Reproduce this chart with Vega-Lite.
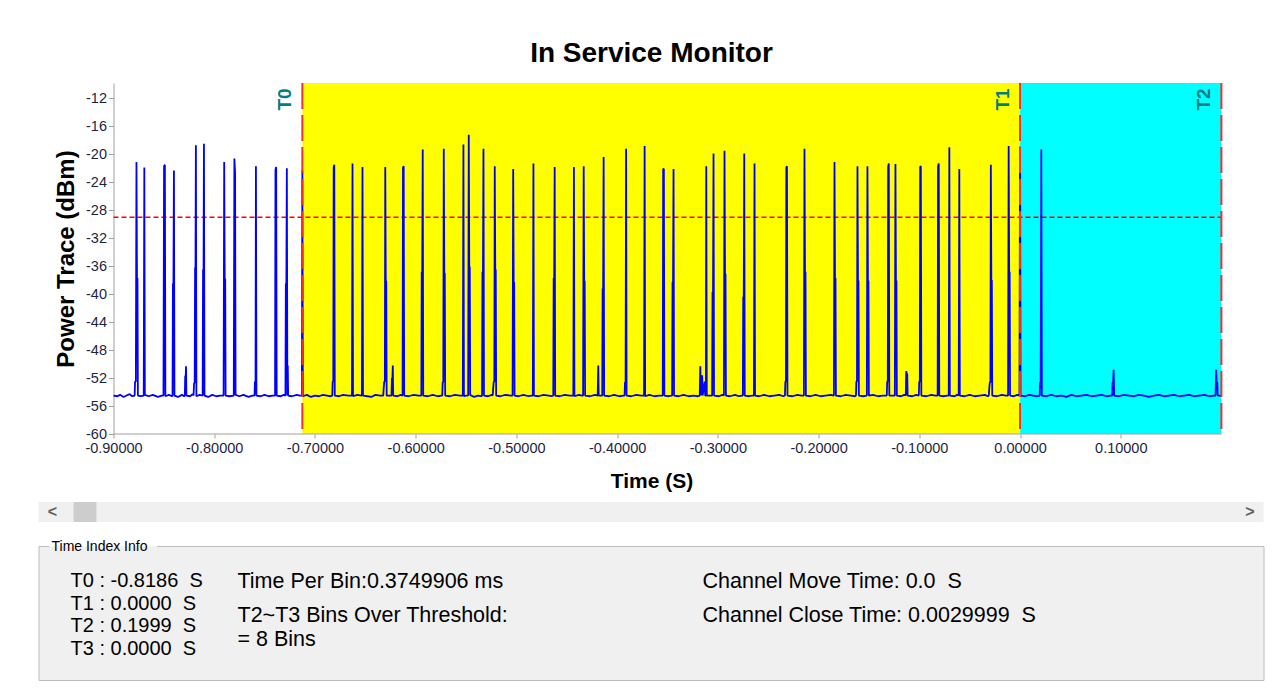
{
"$schema": "https://vega.github.io/schema/vega-lite/v6.json",
"background": "#ffffff",
"padding": {"left": 37.5, "top": 40, "right": 0, "bottom": 0},
"bounds": "flush",
"spacing": 24,
"config": {
  "font": "Liberation Sans",
  "view": {"stroke": null},
  "axis": {"grid": false, "labelOverlap": false, "domainColor": "#a0a0a0", "tickColor": "#a0a0a0", "labelColor": "#1f1f3f", "labelFontSize": 14.5, "titleColor": "#000000", "labelFont": "Liberation Sans", "titleFont": "Liberation Sans"},
  "title": {"font": "Liberation Sans", "color": "#000000"},
  "text": {"font": "Liberation Sans"}
},
"datasets": {
  "regions": [{"span": "T0-T1", "start": -0.7125, "end": 0}, {"span": "T1-T2", "start": 0, "end": 0.1999}],
  "markers": [{"name": "T0", "t": -0.7125}, {"name": "T1", "t": 0}, {"name": "T2", "t": 0.1999}],
  "threshold": [{"level": -29}],
  "info": [
    {"col": 1, "row": 1, "text": "T0 : -0.8186\u00a0 S"},
    {"col": 1, "row": 2, "text": "T1 : 0.0000\u00a0 S"},
    {"col": 1, "row": 3, "text": "T2 : 0.1999\u00a0 S"},
    {"col": 1, "row": 4, "text": "T3 : 0.0000\u00a0 S"},
    {"col": 2, "row": 1, "text": "Time Per Bin:0.3749906 ms"},
    {"col": 2, "row": 2, "text": "T2~T3 Bins Over Threshold:\n= 8 Bins"},
    {"col": 3, "row": 1, "text": "Channel Move Time: 0.0\u00a0 S"},
    {"col": 3, "row": 2, "text": "Channel Close Time: 0.0029999\u00a0 S"}
  ],
  "trace": [
{"t":-0.9,"v":-54.5},{"t":-0.896,"v":-54.6},{"t":-0.8935,"v":-54.4},{"t":-0.89,"v":-54.7},{"t":-0.887,"v":-54.5},{"t":-0.884,"v":-54.3},{"t":-0.8815,"v":-54.6},
{"t":-0.879,"v":-54.5},{"t":-0.8786,"v":-52.5},{"t":-0.8778,"v":-52.5},{"t":-0.8772,"v":-21.1},{"t":-0.8767,"v":-37.7},{"t":-0.8762,"v":-37.7},{"t":-0.8758,"v":-54.5},{"t":-0.873,"v":-54.6},
{"t":-0.87,"v":-54.5},{"t":-0.8694,"v":-21.9},{"t":-0.8689,"v":-54.4},{"t":-0.865,"v":-54.6},{"t":-0.861,"v":-54.4},{"t":-0.856,"v":-54.7},{"t":-0.852,"v":-54.5},
{"t":-0.8504,"v":-54.5},{"t":-0.8498,"v":-21.7},{"t":-0.849,"v":-21.5},{"t":-0.8485,"v":-54.6},{"t":-0.845,"v":-54.4},{"t":-0.842,"v":-54.6},
{"t":-0.8414,"v":-54.5},{"t":-0.841,"v":-38.5},{"t":-0.8405,"v":-38.5},{"t":-0.84,"v":-22.3},{"t":-0.8395,"v":-54.5},{"t":-0.836,"v":-54.7},{"t":-0.832,"v":-54.4},{"t":-0.83,"v":-54.6},
{"t":-0.8292,"v":-54.5},{"t":-0.8288,"v":-51.7},{"t":-0.8283,"v":-51.7},{"t":-0.828,"v":-50.3},{"t":-0.8276,"v":-54.5},{"t":-0.824,"v":-54.6},{"t":-0.8215,"v":-54.3},
{"t":-0.8205,"v":-54.5},{"t":-0.82,"v":-52.7},{"t":-0.8194,"v":-52.7},{"t":-0.819,"v":-36.2},{"t":-0.8186,"v":-36.2},{"t":-0.8182,"v":-18.7},{"t":-0.8177,"v":-54.6},{"t":-0.8145,"v":-54.4},
{"t":-0.8115,"v":-54.5},{"t":-0.8111,"v":-36.5},{"t":-0.8106,"v":-36.5},{"t":-0.8102,"v":-18.5},{"t":-0.8097,"v":-54.5},{"t":-0.806,"v":-54.7},{"t":-0.802,"v":-54.4},{"t":-0.798,"v":-54.6},{"t":-0.794,"v":-54.5},
{"t":-0.7907,"v":-54.5},{"t":-0.7901,"v":-21.1},{"t":-0.7896,"v":-37.8},{"t":-0.7891,"v":-37.8},{"t":-0.7887,"v":-54.5},{"t":-0.785,"v":-54.6},
{"t":-0.7806,"v":-54.5},{"t":-0.78,"v":-20.6},{"t":-0.7793,"v":-22.6},{"t":-0.7788,"v":-54.4},{"t":-0.775,"v":-54.6},{"t":-0.771,"v":-54.4},{"t":-0.766,"v":-54.7},{"t":-0.762,"v":-54.5},
{"t":-0.76,"v":-54.5},{"t":-0.7596,"v":-52.5},{"t":-0.759,"v":-52.5},{"t":-0.7586,"v":-21.7},{"t":-0.7581,"v":-54.5},{"t":-0.754,"v":-54.6},{"t":-0.75,"v":-54.4},{"t":-0.746,"v":-54.6},{"t":-0.742,"v":-54.5},
{"t":-0.7396,"v":-54.5},{"t":-0.7392,"v":-22.2},{"t":-0.7385,"v":-21.8},{"t":-0.738,"v":-54.5},{"t":-0.734,"v":-54.6},{"t":-0.731,"v":-54.4},
{"t":-0.7293,"v":-54.5},{"t":-0.7289,"v":-38.5},{"t":-0.7284,"v":-38.5},{"t":-0.7279,"v":-22.0},{"t":-0.7274,"v":-54.5},{"t":-0.727,"v":-50.2},{"t":-0.7266,"v":-54.5},{"t":-0.723,"v":-54.6},{"t":-0.718,"v":-54.4},{"t":-0.715,"v":-54.5},
{"t":-0.713,"v":-54.5},{"t":-0.7125,"v":-22.3},{"t":-0.712,"v":-54.6},{"t":-0.708,"v":-54.4},{"t":-0.704,"v":-54.7},{"t":-0.7,"v":-54.5},{"t":-0.696,"v":-54.6},{"t":-0.692,"v":-54.4},{"t":-0.688,"v":-54.5},{"t":-0.6845,"v":-54.6},
{"t":-0.6828,"v":-54.5},{"t":-0.6824,"v":-52.5},{"t":-0.6818,"v":-52.5},{"t":-0.6814,"v":-21.8},{"t":-0.6808,"v":-21.5},{"t":-0.6803,"v":-54.5},{"t":-0.676,"v":-54.6},{"t":-0.672,"v":-54.4},{"t":-0.667,"v":-54.5},
{"t":-0.6633,"v":-54.5},{"t":-0.6627,"v":-21.3},{"t":-0.6622,"v":-54.6},{"t":-0.658,"v":-54.4},
{"t":-0.6534,"v":-54.5},{"t":-0.6528,"v":-21.8},{"t":-0.6523,"v":-54.5},{"t":-0.648,"v":-54.6},{"t":-0.644,"v":-54.7},{"t":-0.64,"v":-54.4},{"t":-0.635,"v":-54.5},
{"t":-0.6322,"v":-54.5},{"t":-0.6318,"v":-53.5},{"t":-0.6312,"v":-52.5},{"t":-0.6306,"v":-52.5},{"t":-0.6302,"v":-21.8},{"t":-0.6297,"v":-38.1},{"t":-0.6292,"v":-38.1},{"t":-0.6288,"v":-54.5},
{"t":-0.624,"v":-54.5},{"t":-0.6236,"v":-52.0},{"t":-0.6231,"v":-52.0},{"t":-0.6227,"v":-50.2},{"t":-0.6223,"v":-54.5},{"t":-0.618,"v":-54.6},{"t":-0.615,"v":-54.4},
{"t":-0.613,"v":-54.5},{"t":-0.6126,"v":-21.9},{"t":-0.6119,"v":-21.7},{"t":-0.6114,"v":-54.5},{"t":-0.607,"v":-54.6},{"t":-0.602,"v":-54.4},{"t":-0.597,"v":-54.5},
{"t":-0.5944,"v":-54.5},{"t":-0.594,"v":-36.8},{"t":-0.5935,"v":-36.8},{"t":-0.593,"v":-19.3},{"t":-0.5925,"v":-54.5},{"t":-0.588,"v":-54.6},{"t":-0.583,"v":-54.4},{"t":-0.578,"v":-54.6},{"t":-0.5745,"v":-54.5},
{"t":-0.5736,"v":-54.5},{"t":-0.5732,"v":-52.6},{"t":-0.5726,"v":-52.6},{"t":-0.5721,"v":-19.2},{"t":-0.5716,"v":-37.0},{"t":-0.5711,"v":-37.0},{"t":-0.5707,"v":-54.5},{"t":-0.566,"v":-54.6},{"t":-0.561,"v":-54.4},{"t":-0.556,"v":-54.5},
{"t":-0.5532,"v":-54.5},{"t":-0.5526,"v":-18.6},{"t":-0.5521,"v":-54.6},{"t":-0.55,"v":-54.5},
{"t":-0.5479,"v":-54.5},{"t":-0.5473,"v":-17.2},{"t":-0.5468,"v":-36.1},{"t":-0.5463,"v":-36.1},{"t":-0.5459,"v":-54.4},{"t":-0.542,"v":-54.7},{"t":-0.538,"v":-54.5},{"t":-0.535,"v":-54.6},
{"t":-0.5341,"v":-54.5},{"t":-0.5337,"v":-36.8},{"t":-0.5332,"v":-36.8},{"t":-0.5327,"v":-19.2},{"t":-0.5322,"v":-54.5},{"t":-0.528,"v":-54.6},{"t":-0.5245,"v":-54.4},
{"t":-0.5235,"v":-54.5},{"t":-0.5231,"v":-53.5},{"t":-0.5225,"v":-52.5},{"t":-0.5219,"v":-52.5},{"t":-0.5215,"v":-21.7},{"t":-0.521,"v":-36.5},{"t":-0.5205,"v":-36.5},{"t":-0.5201,"v":-54.5},{"t":-0.516,"v":-54.6},{"t":-0.511,"v":-54.4},{"t":-0.506,"v":-54.5},
{"t":-0.5038,"v":-54.5},{"t":-0.5032,"v":-22.1},{"t":-0.5027,"v":-38.3},{"t":-0.5022,"v":-38.3},{"t":-0.5018,"v":-54.5},{"t":-0.498,"v":-54.6},{"t":-0.493,"v":-54.4},{"t":-0.488,"v":-54.6},{"t":-0.485,"v":-54.5},
{"t":-0.4837,"v":-54.5},{"t":-0.4831,"v":-21.3},{"t":-0.4826,"v":-54.5},{"t":-0.478,"v":-54.6},{"t":-0.473,"v":-54.4},{"t":-0.468,"v":-54.5},{"t":-0.465,"v":-54.6},
{"t":-0.4634,"v":-54.5},{"t":-0.463,"v":-37.7},{"t":-0.4625,"v":-37.7},{"t":-0.462,"v":-21.8},{"t":-0.4615,"v":-54.5},{"t":-0.457,"v":-54.6},{"t":-0.452,"v":-54.4},{"t":-0.447,"v":-54.5},
{"t":-0.4435,"v":-54.5},{"t":-0.4429,"v":-21.8},{"t":-0.4424,"v":-54.6},{"t":-0.438,"v":-54.4},{"t":-0.435,"v":-54.5},
{"t":-0.4338,"v":-54.5},{"t":-0.4332,"v":-21.7},{"t":-0.4327,"v":-38.1},{"t":-0.4322,"v":-38.1},{"t":-0.4318,"v":-54.5},{"t":-0.427,"v":-54.6},{"t":-0.422,"v":-54.4},
{"t":-0.4193,"v":-54.5},{"t":-0.4187,"v":-50.2},{"t":-0.4183,"v":-54.5},
{"t":-0.4148,"v":-54.5},{"t":-0.4144,"v":-39.2},{"t":-0.4139,"v":-39.2},{"t":-0.4134,"v":-20.4},{"t":-0.4129,"v":-54.5},{"t":-0.408,"v":-54.6},{"t":-0.403,"v":-54.4},{"t":-0.398,"v":-54.6},{"t":-0.3935,"v":-54.5},
{"t":-0.3926,"v":-54.5},{"t":-0.3922,"v":-52.6},{"t":-0.3916,"v":-52.6},{"t":-0.3911,"v":-19.2},{"t":-0.3906,"v":-54.5},{"t":-0.386,"v":-54.6},{"t":-0.381,"v":-54.4},{"t":-0.376,"v":-54.5},
{"t":-0.3733,"v":-54.5},{"t":-0.3727,"v":-18.8},{"t":-0.3722,"v":-54.6},{"t":-0.368,"v":-54.4},{"t":-0.363,"v":-54.6},{"t":-0.358,"v":-54.5},
{"t":-0.3547,"v":-54.5},{"t":-0.3543,"v":-22.1},{"t":-0.3536,"v":-22.1},{"t":-0.3531,"v":-54.5},{"t":-0.349,"v":-54.6},{"t":-0.346,"v":-54.5},
{"t":-0.3454,"v":-54.5},{"t":-0.345,"v":-38.3},{"t":-0.3445,"v":-38.3},{"t":-0.344,"v":-22.1},{"t":-0.3435,"v":-54.5},{"t":-0.339,"v":-54.6},{"t":-0.334,"v":-54.4},{"t":-0.329,"v":-54.6},{"t":-0.324,"v":-54.5},{"t":-0.32,"v":-54.6},
{"t":-0.318,"v":-54.5},{"t":-0.3174,"v":-50.3},{"t":-0.3169,"v":-54.5},{"t":-0.3156,"v":-51.6},{"t":-0.3151,"v":-54.5},{"t":-0.3131,"v":-52.5},{"t":-0.3126,"v":-54.5},
{"t":-0.3119,"v":-54.5},{"t":-0.3115,"v":-21.7},{"t":-0.311,"v":-54.5},
{"t":-0.3057,"v":-54.5},{"t":-0.3053,"v":-39.7},{"t":-0.3048,"v":-39.7},{"t":-0.3043,"v":-19.9},{"t":-0.3038,"v":-54.5},{"t":-0.299,"v":-54.6},{"t":-0.2955,"v":-54.4},
{"t":-0.294,"v":-54.5},{"t":-0.2934,"v":-19.5},{"t":-0.2929,"v":-37.1},{"t":-0.2924,"v":-37.1},{"t":-0.292,"v":-54.5},{"t":-0.288,"v":-54.6},{"t":-0.283,"v":-54.4},{"t":-0.279,"v":-54.6},{"t":-0.276,"v":-54.5},
{"t":-0.2752,"v":-54.5},{"t":-0.2748,"v":-40.4},{"t":-0.2743,"v":-40.4},{"t":-0.2738,"v":-19.9},{"t":-0.2733,"v":-54.5},{"t":-0.269,"v":-54.6},{"t":-0.266,"v":-54.5},
{"t":-0.2642,"v":-54.5},{"t":-0.2636,"v":-21.3},{"t":-0.2631,"v":-54.5},{"t":-0.259,"v":-54.6},{"t":-0.254,"v":-54.4},{"t":-0.249,"v":-54.6},{"t":-0.244,"v":-54.5},{"t":-0.239,"v":-54.4},{"t":-0.235,"v":-54.6},
{"t":-0.2334,"v":-54.5},{"t":-0.233,"v":-52.5},{"t":-0.2324,"v":-52.5},{"t":-0.232,"v":-21.9},{"t":-0.2314,"v":-21.7},{"t":-0.2309,"v":-54.5},{"t":-0.226,"v":-54.6},{"t":-0.221,"v":-54.4},{"t":-0.217,"v":-54.5},
{"t":-0.2146,"v":-54.5},{"t":-0.214,"v":-19.2},{"t":-0.2135,"v":-36.8},{"t":-0.213,"v":-36.8},{"t":-0.2126,"v":-54.5},{"t":-0.208,"v":-54.6},{"t":-0.203,"v":-54.4},{"t":-0.198,"v":-54.6},{"t":-0.193,"v":-54.5},{"t":-0.188,"v":-54.4},
{"t":-0.1848,"v":-54.5},{"t":-0.1842,"v":-21.1},{"t":-0.1837,"v":-37.7},{"t":-0.1832,"v":-37.7},{"t":-0.1828,"v":-54.5},{"t":-0.178,"v":-54.6},{"t":-0.173,"v":-54.4},{"t":-0.168,"v":-54.5},{"t":-0.164,"v":-54.6},
{"t":-0.1629,"v":-54.5},{"t":-0.1625,"v":-52.5},{"t":-0.1619,"v":-52.5},{"t":-0.1614,"v":-21.7},{"t":-0.1609,"v":-38.1},{"t":-0.1604,"v":-38.1},{"t":-0.16,"v":-54.5},{"t":-0.156,"v":-54.6},
{"t":-0.1521,"v":-54.5},{"t":-0.1515,"v":-21.7},{"t":-0.151,"v":-38.1},{"t":-0.1505,"v":-38.1},{"t":-0.1501,"v":-54.5},{"t":-0.146,"v":-54.4},{"t":-0.141,"v":-54.6},{"t":-0.136,"v":-54.5},
{"t":-0.1323,"v":-54.5},{"t":-0.1319,"v":-52.5},{"t":-0.1313,"v":-52.5},{"t":-0.1309,"v":-21.8},{"t":-0.1303,"v":-21.3},{"t":-0.1298,"v":-54.5},
{"t":-0.1243,"v":-54.5},{"t":-0.1237,"v":-21.4},{"t":-0.1232,"v":-38.1},{"t":-0.1227,"v":-38.1},{"t":-0.1223,"v":-54.5},{"t":-0.118,"v":-54.6},{"t":-0.115,"v":-54.4},
{"t":-0.1134,"v":-54.5},{"t":-0.113,"v":-51.0},{"t":-0.1125,"v":-51.4},{"t":-0.112,"v":-51.4},{"t":-0.1116,"v":-54.5},{"t":-0.107,"v":-54.6},{"t":-0.103,"v":-54.4},
{"t":-0.1005,"v":-54.5},{"t":-0.1001,"v":-52.5},{"t":-0.0995,"v":-52.5},{"t":-0.0991,"v":-21.8},{"t":-0.0985,"v":-21.7},{"t":-0.098,"v":-54.5},{"t":-0.093,"v":-54.6},{"t":-0.088,"v":-54.4},{"t":-0.084,"v":-54.5},
{"t":-0.0818,"v":-54.5},{"t":-0.0814,"v":-21.8},{"t":-0.0807,"v":-21.3},{"t":-0.0802,"v":-54.5},{"t":-0.076,"v":-54.6},{"t":-0.0725,"v":-54.5},
{"t":-0.0708,"v":-54.5},{"t":-0.0702,"v":-19.0},{"t":-0.0697,"v":-54.5},{"t":-0.065,"v":-54.6},{"t":-0.0625,"v":-54.4},
{"t":-0.0609,"v":-54.5},{"t":-0.0603,"v":-22.1},{"t":-0.0598,"v":-54.5},{"t":-0.055,"v":-54.6},{"t":-0.05,"v":-54.4},{"t":-0.045,"v":-54.6},{"t":-0.04,"v":-54.5},{"t":-0.035,"v":-54.4},{"t":-0.032,"v":-54.6},
{"t":-0.031,"v":-54.5},{"t":-0.0306,"v":-53.5},{"t":-0.03,"v":-52.6},{"t":-0.0294,"v":-52.6},{"t":-0.029,"v":-21.5},{"t":-0.0285,"v":-38.0},{"t":-0.028,"v":-38.0},{"t":-0.0276,"v":-54.5},{"t":-0.023,"v":-54.6},{"t":-0.018,"v":-54.4},{"t":-0.014,"v":-54.5},
{"t":-0.0119,"v":-54.5},{"t":-0.0113,"v":-18.8},{"t":-0.0108,"v":-36.8},{"t":-0.0103,"v":-36.8},{"t":-0.0099,"v":-54.5},{"t":-0.006,"v":-54.6},{"t":-0.003,"v":-54.4},
{"t":-0.0006,"v":-54.5},{"t":0,"v":-18.9},{"t":0.0005,"v":-54.5},{"t":0.005,"v":-54.6},{"t":0.009,"v":-54.4},{"t":0.013,"v":-54.5},{"t":0.017,"v":-54.6},
{"t":0.0195,"v":-54.5},{"t":0.0199,"v":-52.6},{"t":0.0205,"v":-52.6},{"t":0.0211,"v":-19.3},{"t":0.0216,"v":-54.5},{"t":0.026,"v":-54.6},{"t":0.031,"v":-54.4},{"t":0.036,"v":-54.6},{"t":0.041,"v":-54.5},{"t":0.046,"v":-54.7},{"t":0.051,"v":-54.4},{"t":0.056,"v":-54.6},{"t":0.061,"v":-54.5},{"t":0.066,"v":-54.4},{"t":0.071,"v":-54.6},{"t":0.076,"v":-54.5},{"t":0.081,"v":-54.4},{"t":0.086,"v":-54.6},{"t":0.09,"v":-54.5},
{"t":0.0915,"v":-54.5},{"t":0.0919,"v":-52.6},{"t":0.0925,"v":-52.6},{"t":0.0929,"v":-50.8},{"t":0.0934,"v":-54.5},{"t":0.098,"v":-54.6},{"t":0.103,"v":-54.4},{"t":0.108,"v":-54.5},{"t":0.113,"v":-54.6},{"t":0.118,"v":-54.4},{"t":0.123,"v":-54.5},{"t":0.128,"v":-54.7},{"t":0.133,"v":-54.5},{"t":0.138,"v":-54.4},{"t":0.143,"v":-54.6},{"t":0.148,"v":-54.5},{"t":0.153,"v":-54.4},{"t":0.158,"v":-54.6},{"t":0.163,"v":-54.5},{"t":0.168,"v":-54.4},{"t":0.173,"v":-54.6},{"t":0.178,"v":-54.5},{"t":0.183,"v":-54.4},{"t":0.188,"v":-54.6},{"t":0.1925,"v":-54.5},
{"t":0.1941,"v":-54.5},{"t":0.1947,"v":-50.8},{"t":0.1952,"v":-52.6},{"t":0.1958,"v":-52.6},{"t":0.1962,"v":-54.5},{"t":0.2,"v":-54.5}
  ]
},
"vconcat": [
  {
    "width": 1183,
    "height": 351,
    "title": {"text": "In Service Monitor", "fontSize": 28, "fontWeight": "bold", "anchor": "middle", "frame": "group", "dx": 21.5, "offset": 14},
    "layer": [
      {
        "data": {"name": "regions"},
        "mark": {"type": "rect"},
        "encoding": {
          "x": {"field": "start", "type": "quantitative", "title": "Time (S)", "scale": {"domain": [-0.97446, 0.2], "nice": false, "zero": false}},
          "x2": {"field": "end"},
          "color": {"field": "span", "type": "nominal", "scale": {"domain": ["T0-T1", "T1-T2"], "range": ["#ffff00", "#00ffff"]}, "legend": null}
        }
      },
      {
        "data": {"name": "threshold"},
        "mark": {"type": "rule", "color": "#ff0000", "strokeWidth": 1.3, "strokeDash": [5, 3]},
        "encoding": {
          "y": {"field": "level", "type": "quantitative", "title": "Power Trace (dBm)", "scale": {"domain": [-60, -9.8], "nice": false, "zero": false},
                "axis": {"values": [-60, -56, -52, -48, -44, -40, -36, -32, -28, -24, -20, -16, -12], "tickCount": 30, "format": "d", "labelExpr": "replace(datum.label, '\u2212', '-')", "labelOverlap": false, "offset": -75, "tickSize": 5, "labelPadding": 2, "titleFontSize": 24, "titleFontWeight": "bold", "titlePadding": 7}},
          "x": {"datum": -0.9, "scale": {"domain": [-0.97446, 0.2], "nice": false, "zero": false}},
          "x2": {"datum": 0.2}
        }
      },
      {
        "data": {"name": "trace"},
        "mark": {"type": "line", "color": "#0000ff", "strokeWidth": 1.8, "strokeJoin": "bevel"},
        "encoding": {
          "x": {"field": "t", "type": "quantitative", "title": "Time (S)",
                "scale": {"domain": [-0.97446, 0.2], "nice": false, "zero": false},
                "axis": {"values": [-0.9, -0.8, -0.7, -0.6, -0.5, -0.4, -0.3, -0.2, -0.1, 0, 0.1], "tickCount": 30, "format": ".5f", "labelExpr": "replace(datum.label, '\u2212', '-')", "domain": false, "tickSize": 4, "labelPadding": 3, "labelFlush": false, "labelOverlap": false, "titleFontSize": 21, "titleFontWeight": "bold", "titleX": 613, "titleY": 53, "titleBaseline": "alphabetic", "titleAlign": "center"}},
          "y": {"field": "v", "type": "quantitative", "title": "Power Trace (dBm)",
                "scale": {"domain": [-60, -9.8], "nice": false, "zero": false},
                "axis": {"values": [-60, -56, -52, -48, -44, -40, -36, -32, -28, -24, -20, -16, -12], "tickCount": 30, "format": "d", "labelExpr": "replace(datum.label, '\u2212', '-')", "labelOverlap": false, "offset": -75, "tickSize": 5, "labelPadding": 2, "titleFontSize": 24, "titleFontWeight": "bold", "titlePadding": 7}}
        }
      },
      {
        "data": {"name": "threshold"},
        "mark": {"type": "rule", "color": "#a0a0a0", "strokeWidth": 1},
        "encoding": {
          "x": {"datum": -0.9, "scale": {"domain": [-0.97446, 0.2], "nice": false, "zero": false}},
          "x2": {"datum": 0.2},
          "y": {"datum": -60, "scale": {"domain": [-60, -9.8], "nice": false, "zero": false}}
        }
      },
      {
        "data": {"name": "markers"},
        "mark": {"type": "rule", "color": "#f03030", "strokeWidth": 2, "strokeDash": [26, 6]},
        "encoding": {
          "x": {"field": "t", "type": "quantitative", "title": "Time (S)", "scale": {"domain": [-0.97446, 0.2], "nice": false, "zero": false}}
        }
      },
      {
        "data": {"name": "markers"},
        "mark": {"type": "text", "angle": 270, "align": "center", "baseline": "bottom", "dy": -7, "fontSize": 19, "fontWeight": "bold", "color": "#007f7f"},
        "encoding": {
          "x": {"field": "t", "type": "quantitative", "title": "Time (S)", "scale": {"domain": [-0.97446, 0.2], "nice": false, "zero": false}},
          "y": {"datum": -12.15, "scale": {"domain": [-60, -9.8], "nice": false, "zero": false}},
          "text": {"field": "name"}
        }
      }
    ]
  },
  {
    "width": 1225,
    "height": 64,
    "data": {"values": [{"thumb_start": 0.0286, "thumb_end": 0.0473}]},
    "layer": [
      {
        "mark": {"type": "rect", "color": "#f0f0f0"},
        "encoding": {
          "x": {"datum": 0, "scale": {"domain": [0, 1], "nice": false, "zero": false}, "axis": null},
          "x2": {"datum": 1},
          "y": {"datum": 0, "scale": {"domain": [0, 64], "nice": false, "zero": false}, "axis": null},
          "y2": {"datum": 20}
        }
      },
      {
        "mark": {"type": "rect", "color": "#cdcdcd"},
        "encoding": {
          "x": {"field": "thumb_start", "type": "quantitative", "scale": {"domain": [0, 1], "nice": false, "zero": false}, "axis": null},
          "x2": {"field": "thumb_end"},
          "y": {"datum": 0, "scale": {"domain": [0, 64], "nice": false, "zero": false}, "axis": null},
          "y2": {"datum": 20}
        }
      },
      {
        "mark": {"type": "text", "text": "<", "fontSize": 16, "fontWeight": "bold", "color": "#606060", "baseline": "middle", "align": "center"},
        "encoding": {
          "x": {"datum": 0.0114, "scale": {"domain": [0, 1], "nice": false, "zero": false}, "axis": null},
          "y": {"datum": 10, "scale": {"domain": [0, 64], "nice": false, "zero": false}, "axis": null}
        }
      },
      {
        "mark": {"type": "text", "text": ">", "fontSize": 16, "fontWeight": "bold", "color": "#606060", "baseline": "middle", "align": "center"},
        "encoding": {
          "x": {"datum": 0.989, "scale": {"domain": [0, 1], "nice": false, "zero": false}, "axis": null},
          "y": {"datum": 10, "scale": {"domain": [0, 64], "nice": false, "zero": false}, "axis": null}
        }
      }
    ]
  },
  {
    "width": 1225,
    "height": 134,
    "view": {"fill": "#f0f0f0", "stroke": "#bcbcbc", "strokeWidth": 1, "strokeDash": [10, 108, 5000]},
    "title": {"text": "Time Index Info", "anchor": "start", "frame": "group", "dx": 13, "offset": -8, "fontSize": 14, "fontWeight": "normal", "color": "#000000"},
    "data": {"name": "info"},
    "resolve": {"scale": {"y": "independent"}},
    "layer": [
      {
        "transform": [{"filter": "datum.col == 1"}],
        "mark": {"type": "text", "align": "left", "baseline": "middle", "fontSize": 20, "color": "#000000"},
        "encoding": {
          "x": {"field": "col", "type": "quantitative", "scale": {"domain": [1, 2, 3], "range": [32, 199, 664]}, "axis": null},
          "y": {"field": "row", "type": "quantitative", "scale": {"domain": [1, 4], "range": [35, 102.5]}, "axis": null},
          "text": {"field": "text"}
        }
      },
      {
        "transform": [{"filter": "datum.col > 1"}],
        "mark": {"type": "text", "align": "left", "baseline": "top", "fontSize": 21.5, "lineBreak": "\n", "lineHeight": 24, "color": "#000000"},
        "encoding": {
          "x": {"field": "col", "type": "quantitative", "scale": {"domain": [1, 2, 3], "range": [32, 199, 664]}, "axis": null},
          "y": {"field": "row", "type": "quantitative", "scale": {"domain": [1, 2], "range": [25, 59]}, "axis": null},
          "text": {"field": "text"}
        }
      }
    ]
  }
]
}
